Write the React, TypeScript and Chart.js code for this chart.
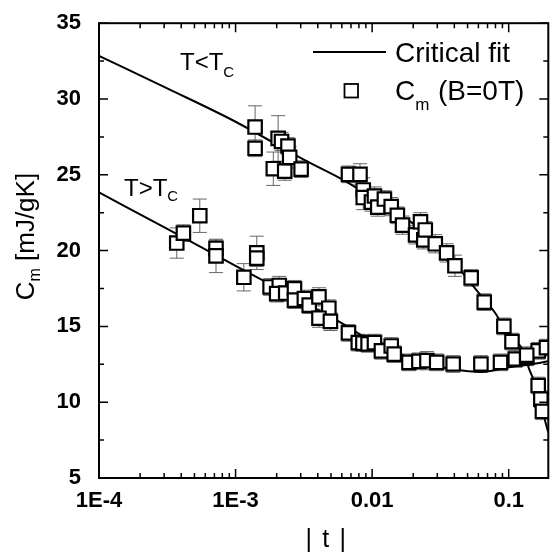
import { useEffect, useRef } from 'react';
import { Chart, registerables } from 'chart.js';
Chart.register(...registerables);

const FONT = '"Liberation Sans", Arial, Helvetica, sans-serif';

// Axis ticks
const xTickValues = [1e-4, 1e-3, 1e-2, 1e-1];
const xTickLabels = ['1E-4', '1E-3', '0.01', '0.1'];
const yTickValues = [5, 10, 15, 20, 25, 30, 35];

// C_m data below Tc (T<Tc): |t|, C_m, error
const belowT = [1.39e-3, 1.39e-3, 1.89e-3, 2.05e-3, 2.17e-3, 2.29e-3, 2.42e-3, 2.49e-3, 3.02e-3, 6.71e-3, 8.15e-3, 8.61e-3, 8.61e-3, 9.89e-3, 1.04e-2, 1.10e-2, 1.23e-2, 1.38e-2, 1.53e-2, 1.67e-2, 2.08e-2, 2.26e-2, 2.39e-2, 2.45e-2, 2.90e-2, 3.51e-2, 4.04e-2, 5.31e-2, 6.62e-2, 9.22e-2, 0.1057, 0.1355, 0.1644, 0.172, 0.1766];
const belowC = [28.15, 26.75, 25.4, 27.4, 27.2, 25.24, 26.9, 26.15, 25.37, 25.03, 25.03, 24.0, 23.5, 23.2, 23.6, 22.87, 23.4, 22.9, 22.33, 21.68, 21.04, 21.9, 20.71, 21.36, 20.45, 19.85, 19.0, 18.2, 16.6, 15.0, 14.0, 13.1, 11.1, 10.2, 9.4];
const belowErr = [1.4, 0.55, 1.1, 1.5, 0.6, 0.6, 0.55, 0.7, 0.55, 0.55, 0.7, 0.8, 0.8, 0.6, 0.6, 0.6, 0.55, 0.6, 0.55, 0.6, 0.6, 0.6, 0.6, 0.55, 0.6, 0.6, 0.7, 0.55, 0.55, 0.55, 0.55, 0.55, 0.55, 0.55, 0.55];

// C_m data above Tc (T>Tc)
const aboveT = [3.71e-4, 4.15e-4, 5.47e-4, 7.19e-4, 7.19e-4, 1.15e-3, 1.43e-3, 1.43e-3, 1.79e-3, 2.09e-3, 2.0e-3, 2.33e-3, 2.70e-3, 2.70e-3, 3.19e-3, 3.46e-3, 4.08e-3, 4.82e-3, 4.08e-3, 4.95e-3, 6.71e-3, 7.92e-3, 8.56e-3, 9.34e-3, 1.04e-2, 1.17e-2, 1.38e-2, 1.45e-2, 1.86e-2, 2.20e-2, 2.52e-2, 2.97e-2, 3.92e-2, 6.26e-2, 8.71e-2, 0.1117, 0.1355, 0.1644, 0.189];
const aboveC = [20.5, 21.15, 22.3, 20.15, 19.65, 18.24, 19.85, 19.5, 17.6, 17.7, 17.16, 17.2, 17.48, 16.73, 16.84, 16.4, 16.95, 16.2, 15.54, 15.33, 14.57, 13.93, 13.9, 13.85, 13.93, 13.39, 13.71, 13.17, 12.63, 12.7, 12.74, 12.63, 12.52, 12.52, 12.63, 12.85, 12.96, 13.39, 13.6];
const aboveErr = [1.0, 0.55, 1.1, 0.55, 1.1, 0.9, 1.1, 0.55, 0.55, 0.6, 0.55, 0.55, 0.55, 0.55, 0.55, 0.55, 0.6, 0.55, 0.6, 0.6, 0.55, 0.55, 0.55, 0.55, 0.55, 0.55, 0.55, 0.55, 0.55, 0.55, 0.6, 0.55, 0.55, 0.55, 0.55, 0.55, 0.55, 0.55, 0.55];

// Critical fit curves
const fitBelowT = [1e-4, 3.16e-4, 1e-3, 3.16e-3, 6.31e-3, 1e-2, 1.58e-2, 2.51e-2, 3.98e-2, 6.31e-2, 7.94e-2, 0.1, 0.126, 0.141, 0.158, 0.178, 0.195];
const fitBelowC = [32.85, 30.7, 28.5, 26.0, 24.6, 23.5, 22.4, 21.1, 19.2, 17.0, 15.9, 14.4, 13.5, 12.2, 11.1, 9.3, 8.0];
const fitAboveT = [1e-4, 3.16e-4, 1e-3, 3.16e-3, 6.31e-3, 1e-2, 1.58e-2, 2.51e-2, 3.98e-2, 6.31e-2, 0.1, 0.158, 0.195];
const fitAboveC = [23.84, 21.43, 19.0, 16.6, 15.1, 14.0, 13.2, 12.55, 12.15, 12.0, 12.3, 12.55, 12.7];

const X_MIN = 1e-4;
const X_MAX = 0.195;
const Y_MIN = 5;
const Y_MAX = 35;

const pts = (xs: number[], ys: number[]) => xs.map((x, i) => ({ x, y: ys[i] }));

const decorPlugin = {
  id: 'decor',
  beforeDatasetsDraw(chart: any) {
    const { ctx, chartArea, scales } = chart;
    const xs = scales.x;
    const ys = scales.y;
    ctx.save();
    ctx.beginPath();
    ctx.rect(chartArea.left, chartArea.top, chartArea.right - chartArea.left, chartArea.bottom - chartArea.top);
    ctx.clip();
    ctx.strokeStyle = '#666';
    ctx.lineWidth = 1;
    chart.data.datasets.forEach((ds: any) => {
      if (!ds.errors) return;
      ds.data.forEach((p: any, i: number) => {
        const e = ds.errors[i];
        const px = xs.getPixelForValue(p.x);
        const y1 = ys.getPixelForValue(p.y + e);
        const y2 = ys.getPixelForValue(p.y - e);
        ctx.beginPath();
        ctx.moveTo(px, y1);
        ctx.lineTo(px, y2);
        ctx.moveTo(px - 7, y1);
        ctx.lineTo(px + 7, y1);
        ctx.moveTo(px - 7, y2);
        ctx.lineTo(px + 7, y2);
        ctx.stroke();
      });
    });
    ctx.restore();
  },
  afterDraw(chart: any) {
    const { ctx, chartArea, scales } = chart;
    const { left, right, top, bottom } = chartArea;
    const xs = scales.x;
    const ys = scales.y;
    ctx.save();
    ctx.strokeStyle = '#000';
    ctx.fillStyle = '#000';
    ctx.lineWidth = 2;
    ctx.strokeRect(left, top, right - left, bottom - top);

    // x ticks (bottom and top, inward)
    ctx.lineWidth = 1.5;
    for (let n = -4; n <= -1; n++) {
      for (let k = 1; k <= 9; k++) {
        const v = k * Math.pow(10, n);
        if (v < X_MIN * 0.999 || v > X_MAX) continue;
        const px = xs.getPixelForValue(v);
        const len = k === 1 ? 9 : 5;
        ctx.beginPath();
        ctx.moveTo(px, bottom);
        ctx.lineTo(px, bottom - len);
        ctx.moveTo(px, top);
        ctx.lineTo(px, top + len);
        ctx.stroke();
      }
    }
    // y ticks (left and right, inward)
    for (let v = Y_MIN; v <= Y_MAX; v += 2.5) {
      const py = ys.getPixelForValue(v);
      const len = v % 5 === 0 ? 9 : 5;
      ctx.beginPath();
      ctx.moveTo(left, py);
      ctx.lineTo(left + len, py);
      ctx.moveTo(right, py);
      ctx.lineTo(right - len, py);
      ctx.stroke();
    }

    // Axis titles
    ctx.textAlign = 'left';
    ctx.textBaseline = 'alphabetic';
    // y title: C_m [mJ/gK]
    ctx.save();
    const cy = (top + bottom) / 2 - 14;
    ctx.translate(34, cy);
    ctx.rotate(-Math.PI / 2);
    ctx.font = `26px ${FONT}`;
    const wC = ctx.measureText('C').width;
    const wRest = ctx.measureText(' [mJ/gK]').width;
    ctx.font = `16px ${FONT}`;
    const wm = ctx.measureText('m').width;
    const total = wC + wm + wRest;
    const x0 = -total / 2;
    ctx.font = `26px ${FONT}`;
    ctx.fillText('C', x0, 0);
    ctx.font = `16px ${FONT}`;
    ctx.fillText('m', x0 + wC, 6);
    ctx.font = `26px ${FONT}`;
    ctx.fillText(' [mJ/gK]', x0 + wC + wm, 0);
    ctx.restore();

    // x title: | t |
    const cx = (left + right) / 2 + 2;
    ctx.font = `25px ${FONT}`;
    ctx.textAlign = 'center';
    ctx.fillText('|', cx - 17, 547);
    ctx.fillText('t', cx, 547);
    ctx.fillText('|', cx + 17, 547);

    // Legend
    ctx.textAlign = 'left';
    ctx.lineWidth = 2;
    ctx.beginPath();
    ctx.moveTo(313, 52);
    ctx.lineTo(386, 52);
    ctx.stroke();
    ctx.font = `28px ${FONT}`;
    ctx.fillText('Critical fit', 395, 62);
    ctx.lineWidth = 1.8;
    ctx.fillStyle = '#fff';
    ctx.fillRect(344.5, 84, 13.5, 13.5);
    ctx.fillStyle = '#000';
    ctx.strokeRect(344.5, 84, 13.5, 13.5);
    ctx.fillText('C', 395, 100);
    const wC2 = ctx.measureText('C').width;
    ctx.font = `17px ${FONT}`;
    ctx.fillText('m', 395 + wC2, 110);
    ctx.font = `28px ${FONT}`;
    ctx.fillText('(B=0T)', 438, 100);

    // Annotations
    ctx.font = `24px ${FONT}`;
    ctx.fillText('T<T', 180, 70);
    const w1 = ctx.measureText('T<T').width;
    ctx.font = `15px ${FONT}`;
    ctx.fillText('C', 180 + w1, 77);
    ctx.font = `24px ${FONT}`;
    ctx.fillText('T>T', 124, 196);
    const w2 = ctx.measureText('T>T').width;
    ctx.font = `15px ${FONT}`;
    ctx.fillText('C', 124 + w2, 201);
    ctx.restore();
  },
};

export default function App() {
  const ref = useRef<HTMLCanvasElement | null>(null);
  useEffect(() => {
    if (!ref.current) return;
    const squareStyle = {
      pointStyle: 'rect',
      pointRadius: 9.5,
      pointBorderWidth: 2.2,
      pointBorderColor: '#000',
      pointBackgroundColor: '#fff',
      borderColor: '#000',
      backgroundColor: '#fff',
      showLine: false,
    };
    const lineStyle = {
      showLine: true,
      pointRadius: 0,
      borderColor: '#000',
      borderWidth: 2,
      fill: false,
      cubicInterpolationMode: 'monotone',
    };
    const chart = new Chart(ref.current, {
      type: 'scatter',
      data: {
        datasets: [
          { label: 'T<Tc', data: pts(belowT, belowC), errors: belowErr, order: 0, ...squareStyle } as any,
          { label: 'T>Tc', data: pts(aboveT, aboveC), errors: aboveErr, order: 1, ...squareStyle } as any,
          { label: 'fit below', data: pts(fitBelowT, fitBelowC), order: 3, ...lineStyle } as any,
          { label: 'fit above', data: pts(fitAboveT, fitAboveC), order: 4, ...lineStyle } as any,
        ],
      },
      options: {
        responsive: false,
        animation: false,
        events: [],
        layout: { padding: { top: 14, right: 3, left: 0, bottom: 0 } },
        plugins: { legend: { display: false }, tooltip: { enabled: false } },
        scales: {
          x: {
            type: 'logarithmic',
            min: X_MIN,
            max: X_MAX,
            grid: { display: false },
            border: { display: false },
            afterBuildTicks: (s: any) => {
              s.ticks = xTickValues.map((v) => ({ value: v }));
            },
            afterFit: (s: any) => {
              s.height = 76;
            },
            ticks: {
              autoSkip: false,
              maxRotation: 0,
              padding: 2,
              color: '#000',
              font: { family: FONT, size: 22, weight: 'bold' },
              callback: (v: any) => {
                const i = xTickValues.findIndex((t) => Math.abs(Math.log10(t) - Math.log10(v)) < 1e-6);
                return i >= 0 ? xTickLabels[i] : '';
              },
            },
          },
          y: {
            min: Y_MIN,
            max: Y_MAX,
            grid: { display: false },
            border: { display: false },
            afterBuildTicks: (s: any) => {
              s.ticks = yTickValues.map((v) => ({ value: v }));
            },
            afterFit: (s: any) => {
              s.width = 99;
            },
            ticks: {
              padding: 10,
              color: '#000',
              font: { family: FONT, size: 22, weight: 'bold' },
            },
          },
        },
      } as any,
      plugins: [decorPlugin],
    });
    return () => chart.destroy();
  }, []);
  return (
    <div style={{ position: 'fixed', left: 0, top: 0, width: 554, height: 554, overflow: 'hidden', background: '#fff' }}>
      <canvas ref={ref} width={560} height={554} style={{ display: 'block' }} />
    </div>
  );
}
